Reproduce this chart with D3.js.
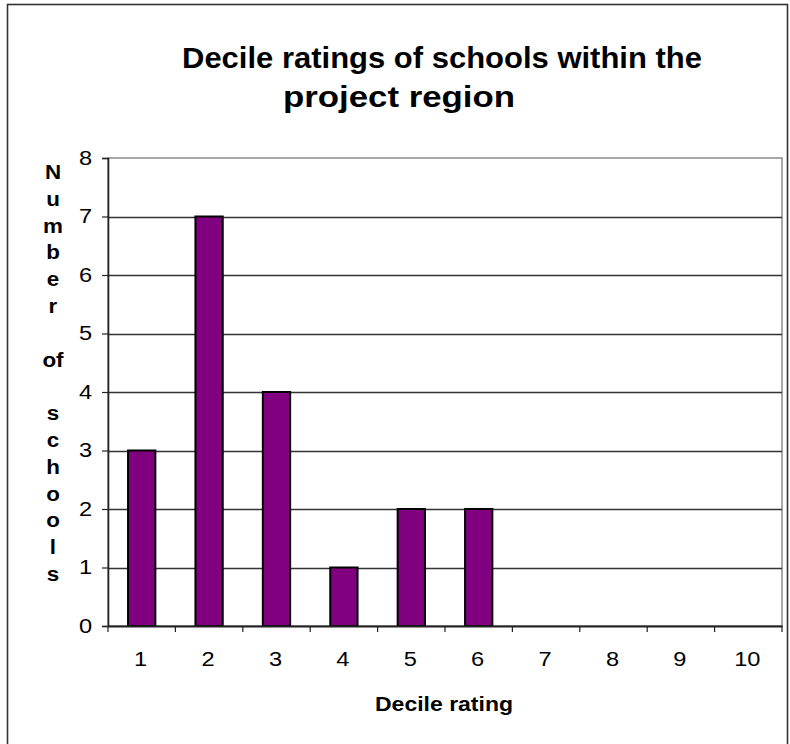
<!DOCTYPE html>
<html>
<head>
<meta charset="utf-8">
<script src="https://cdn.jsdelivr.net/npm/d3@7"></script>
<style>
  html, body { margin: 0; padding: 0; background: #fff; }
  svg { display: block; }
  text { font-family: "Liberation Sans", Arial, sans-serif; fill: #000; }
</style>
</head>
<body>
<svg id="chart" width="790" height="744"></svg>
<script>
const categories = ["1", "2", "3", "4", "5", "6", "7", "8", "9", "10"];
const values = [3, 7, 4, 1, 2, 2, 0, 0, 0, 0];
const yTicks = [0, 1, 2, 3, 4, 5, 6, 7, 8];
const titleLines = ["Decile ratings of schools within the", "project region"];
const yTitleLines = ["N", "u", "m", "b", "e", "r", "", "of", "", "s", "c", "h", "o", "o", "l", "s"];
const xTitle = "Decile rating";

const svg = d3.select("#chart");
const plot = { left: 108, right: 782, top: 158, bottom: 626 };

function stretch(sel, factor) {
  sel.each(function () {
    const w = this.getComputedTextLength();
    if (w > 0) d3.select(this).attr("textLength", w * factor).attr("lengthAdjust", "spacingAndGlyphs");
  });
}

// outer chart border
svg.append("rect")
  .attr("x", 7.5).attr("y", 4.5)
  .attr("width", 780).attr("height", 780)
  .attr("fill", "#fff").attr("stroke", "#333").attr("stroke-width", 1.6);

const x = d3.scaleBand().domain(categories).range([plot.left, plot.right]).padding(0);
const xb = d3.scaleBand().domain(categories).range([plot.left, plot.right])
  .paddingInner(0.595).paddingOuter(0.2975);
const y = d3.scaleLinear().domain([0, 8]).range([plot.bottom, plot.top]);

// plot area border (top/right gray)
svg.append("rect")
  .attr("x", plot.left).attr("y", plot.top)
  .attr("width", plot.right - plot.left).attr("height", plot.bottom - plot.top)
  .attr("fill", "none").attr("stroke", "#8c8c8c").attr("stroke-width", 1.5);

// gridlines
svg.append("g").selectAll("line")
  .data(yTicks.filter(d => d > 0 && d < 8))
  .join("line")
  .attr("x1", plot.left).attr("x2", plot.right)
  .attr("y1", d => Math.round(y(d)) + 0.5).attr("y2", d => Math.round(y(d)) + 0.5)
  .attr("stroke", "#333").attr("stroke-width", 1.3);

// bars
svg.append("g").selectAll("rect")
  .data(categories.map((c, i) => ({ c, v: values[i] })).filter(d => d.v > 0))
  .join("rect")
  .attr("x", d => xb(d.c))
  .attr("y", d => y(d.v))
  .attr("width", xb.bandwidth())
  .attr("height", d => y(0) - y(d.v))
  .attr("fill", "#800080")
  .attr("stroke", "#000").attr("stroke-width", 2);

// y axis
const yAxis = d3.axisLeft(y).tickValues(yTicks).tickSize(6).tickPadding(10);
const gy = svg.append("g").attr("transform", `translate(${plot.left},0)`).call(yAxis);
gy.select(".domain").attr("stroke", "#222").attr("stroke-width", 1.6);
gy.selectAll(".tick line").attr("stroke", "#222").attr("stroke-width", 1.2);
gy.selectAll(".tick text").attr("font-size", 20).attr("font-family", "Liberation Sans, Arial, sans-serif").attr("fill", "#000");
stretch(gy.selectAll(".tick text"), 1.18);

// x axis
const xAxis = d3.axisBottom(x).tickValues([]).tickSize(0);
const gx = svg.append("g").attr("transform", `translate(0,${plot.bottom})`).call(xAxis);
gx.select(".domain").attr("stroke", "#222").attr("stroke-width", 2);
const boundaries = categories.map(c => x(c)).concat([plot.right]);
gx.selectAll("line.bt").data(boundaries).join("line").attr("class", "bt")
  .attr("x1", d => d).attr("x2", d => d).attr("y1", 0).attr("y2", 6)
  .attr("stroke", "#222").attr("stroke-width", 1.2);
const xl = gx.selectAll("text.lbl").data(categories).join("text").attr("class", "lbl")
  .attr("x", d => x(d) + x.bandwidth() / 2 - 1)
  .attr("y", 40)
  .attr("text-anchor", "middle")
  .attr("font-size", 20)
  .text(d => d);
stretch(xl, 1.18);

// title
svg.append("text")
  .attr("x", 442).attr("y", 68)
  .attr("text-anchor", "middle")
  .attr("font-size", 29).attr("font-weight", "bold")
  .attr("textLength", 520).attr("lengthAdjust", "spacingAndGlyphs")
  .text(titleLines[0]);
svg.append("text")
  .attr("x", 283).attr("y", 107)
  .attr("text-anchor", "start")
  .attr("font-size", 29).attr("font-weight", "bold")
  .attr("textLength", 232).attr("lengthAdjust", "spacingAndGlyphs")
  .text(titleLines[1]);

// y title (stacked)
const yt = svg.append("g").selectAll("text")
  .data(yTitleLines)
  .join("text")
  .attr("x", 53)
  .attr("y", (d, i) => 179 + i * 26.8)
  .attr("text-anchor", "middle")
  .attr("font-size", 20).attr("font-weight", "bold")
  .text(d => d);
stretch(yt, 1.12);

// x title
svg.append("text")
  .attr("x", 444).attr("y", 711)
  .attr("text-anchor", "middle")
  .attr("font-size", 21).attr("font-weight", "bold")
  .attr("textLength", 138).attr("lengthAdjust", "spacingAndGlyphs")
  .text(xTitle);
</script>
</body>
</html>
